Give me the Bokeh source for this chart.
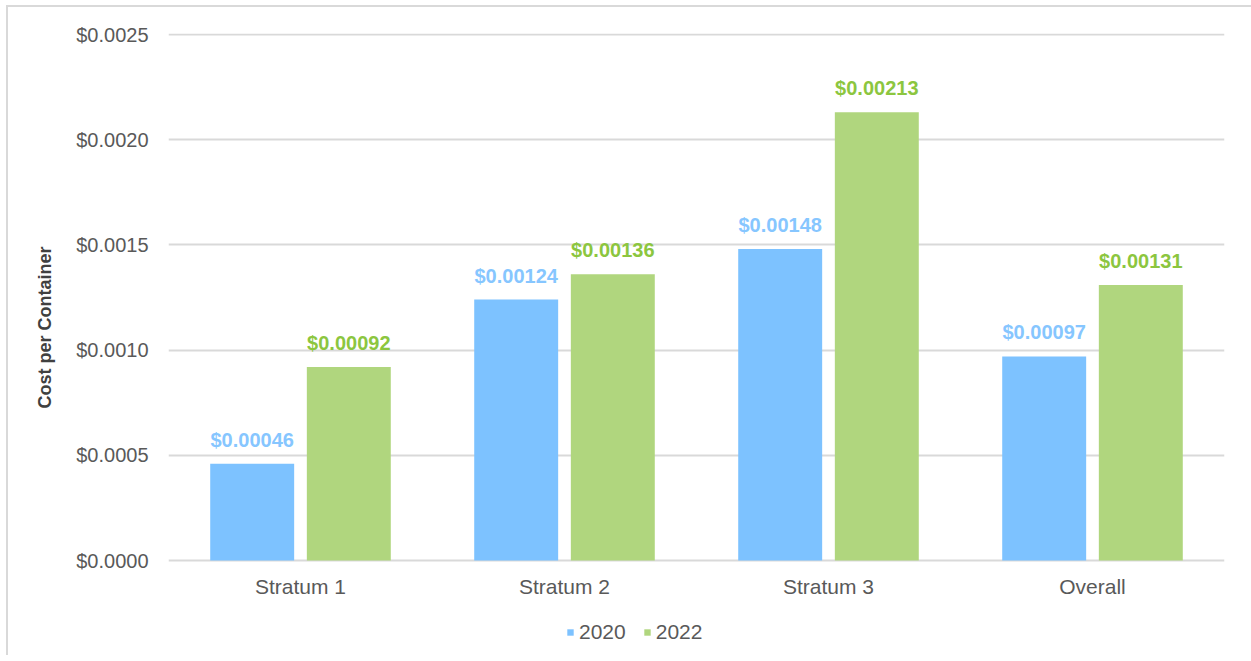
from bokeh.plotting import figure
from bokeh.models import (ColumnDataSource, FactorRange, FixedTicker, NumeralTickFormatter,
                          Legend, LegendItem, Title)
from bokeh.transform import dodge
from bokeh.core.properties import value
from bokeh.embed import file_html
from bokeh.resources import INLINE

categories = ["Stratum 1", "Stratum 2", "Stratum 3", "Overall"]
cost_2020 = [0.00046, 0.00124, 0.00148, 0.00097]
cost_2022 = [0.00092, 0.00136, 0.00213, 0.00131]
y_ticks = [0.0, 0.0005, 0.0010, 0.0015, 0.0020, 0.0025]
y_max = 0.0025

BLUE = "#7DC2FF"
GREEN = "#B0D67E"
BLUE_TXT = "#86C6FF"
GREEN_TXT = "#8CC63F"
FONT = "Liberation Sans"

source = ColumnDataSource(data=dict(
    cat=categories,
    base=[0.0] * len(categories),
    v2020=cost_2020,
    v2022=cost_2022,
    l2020=[f"${v:.5f}" for v in cost_2020],
    l2022=[f"${v:.5f}" for v in cost_2022],
))

# the plot frame runs below zero so that the category labels and the legend
# share the frame with the bars
px_above = 527   # frame pixels for 0 .. top
px_below = 95    # frame pixels below the zero line
unit = y_max / 526
p = figure(
    x_range=FactorRange(*categories, range_padding=0),
    y_range=(-unit * px_below, unit * px_above),
    frame_width=1056, frame_height=px_above + px_below,
    output_backend="svg", toolbar_location=None,
    min_border_left=160, min_border_right=27, min_border_top=26, min_border_bottom=0,
    margin=(5, 0, 0, 6),
    styles={"border-left": "2px solid #d9d9d9", "border-top": "2px solid #d9d9d9"},
)
p.outline_line_color = None
p.background_fill_color = "white"
p.border_fill_color = "white"

off = 0.183
bw = 0.318
r1 = p.vbar(x=dodge("cat", -off, range=p.x_range), top="v2020", width=bw, source=source,
            fill_color=BLUE, line_color=None)
r2 = p.vbar(x=dodge("cat", off, range=p.x_range), top="v2022", width=bw, source=source,
            fill_color=GREEN, line_color=None)

p.text(x=dodge("cat", -off, range=p.x_range), y="v2020", text="l2020", source=source,
       text_align="center", text_baseline="alphabetic", y_offset=-24,
       text_color=BLUE_TXT, text_font=value(FONT), text_font_style="bold", text_font_size="20px")
p.text(x=dodge("cat", off, range=p.x_range), y="v2022", text="l2022", source=source,
       text_align="center", text_baseline="alphabetic", y_offset=-24,
       text_color=GREEN_TXT, text_font=value(FONT), text_font_style="bold", text_font_size="20px")

# category names under the zero line
p.text(x="cat", y="base", text="cat", source=source,
       text_align="center", text_baseline="alphabetic", y_offset=26,
       text_color="#595959", text_font=value(FONT), text_font_size="21px")

# axes
p.xaxis.visible = False
p.yaxis.ticker = FixedTicker(ticks=y_ticks)
p.yaxis.formatter = NumeralTickFormatter(format="$0.0000")
p.yaxis.axis_line_color = None
p.yaxis.major_tick_line_color = None
p.yaxis.minor_tick_line_color = None
p.yaxis.major_label_text_font = FONT
p.yaxis.major_label_text_font_size = "20px"
p.yaxis.major_label_text_color = "#595959"
p.yaxis.major_label_standoff = 14

# vertical axis title, set a little below the middle of the bar area
p.add_layout(Title(text="Cost per Container", align="left", offset=152 + px_below, standoff=38,
                   text_font=FONT, text_font_style="bold", text_font_size="18px",
                   text_color="#404040"), "left")

p.xgrid.grid_line_color = None
p.ygrid.grid_line_color = "#d9d9d9"
p.ygrid.grid_line_width = 2

legend = Legend(
    items=[LegendItem(label="2020", renderers=[r1]), LegendItem(label="2022", renderers=[r2])],
    orientation="horizontal", location=(398, 11),
    label_text_font=FONT, label_text_font_size="21px", label_text_color="#595959",
    glyph_width=8, glyph_height=8, label_standoff=5, spacing=17,
    border_line_color=None, background_fill_alpha=0, margin=0, padding=0,
)
p.add_layout(legend, "center")

open("out.html", "w").write(file_html(p, INLINE))
